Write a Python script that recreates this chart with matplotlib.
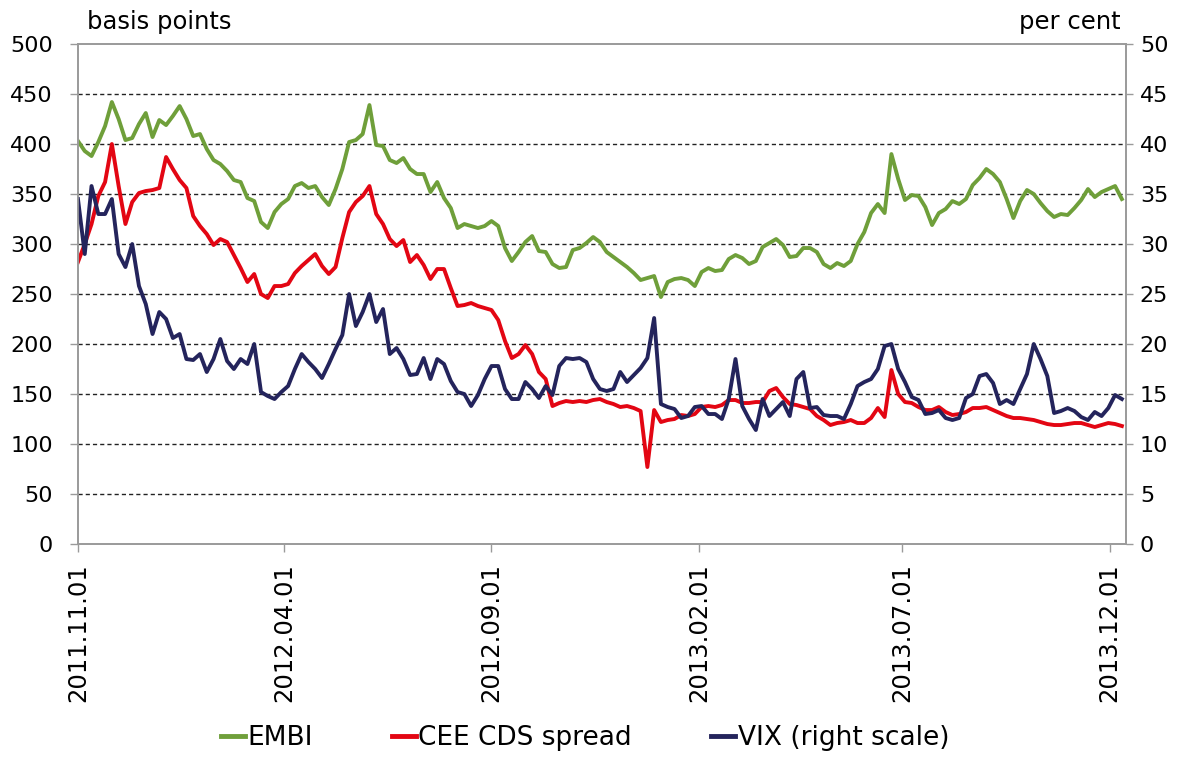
import matplotlib
matplotlib.use("Agg")
import matplotlib.pyplot as plt
import matplotlib.dates as mdates
import pandas as pd

# Values on a 5-day grid starting 2011-11-01
START_DATE = "2011-11-01"
STEP = "5D"

embi = [
    403, 393, 388, 402, 418, 442, 425, 404, 406, 420,
    431, 407, 424, 419, 428, 438, 425, 408, 410, 395,
    384, 380, 373, 364, 362, 346, 343, 322, 316, 332,
    340, 345, 358, 361, 356, 358, 347, 339, 355, 375,
    402, 404, 410, 439, 399, 398, 384, 381, 386, 375,
    370, 370, 352, 362, 346, 336, 316, 320, 318, 316,
    318, 323, 318, 296, 283, 292, 302, 308, 293, 292,
    280, 276, 277, 294, 296, 301, 307, 302, 292, 287,
    282, 277, 271, 264, 266, 268, 247, 262, 265, 266,
    264, 258, 272, 276, 273, 274, 285, 289, 286, 280,
    283, 297, 301, 305, 299, 287, 288, 296, 296, 292,
    280, 276, 281, 278, 283, 300, 312, 331, 340, 331,
    390, 365, 344, 349, 348, 337, 319, 331, 335, 343,
    340, 345, 359, 366, 375, 370, 362, 345, 326, 343,
    354, 350, 341, 333, 327, 330, 329, 336, 344, 355,
    347, 352, 355, 358, 345,
]

cds = [
    282, 300, 320, 348, 362, 400, 358, 320, 342, 351,
    353, 354, 356, 387, 375, 364, 356, 328, 318, 310,
    299, 305, 302, 289, 276, 262, 270, 250, 246, 258,
    258, 260, 271, 278, 284, 290, 278, 270, 277, 306,
    332, 342, 348, 358, 330, 320, 305, 298, 304, 282,
    289, 279, 265, 275, 275, 256, 238, 239, 241, 238,
    236, 234, 224, 203, 186, 190, 199, 190, 172, 165,
    138, 141, 143, 142, 143, 142, 144, 145, 142, 140,
    137, 138, 136, 133, 77, 134, 122, 124, 125, 129,
    128, 130, 137, 138, 137, 139, 144, 144, 141, 141,
    142, 142, 153, 156, 147, 140, 139, 137, 135, 128,
    124, 119, 121, 122, 124, 121, 121, 126, 136, 127,
    174, 150, 142, 141, 137, 134, 134, 137, 132, 129,
    130, 132, 136, 136, 137, 134, 131, 128, 126, 126,
    125, 124, 122, 120, 119, 119, 120, 121, 121, 119,
    117, 119, 121, 120, 118,
]

vix = [
    34.5, 29.0, 35.8, 33.0, 33.0, 34.5, 29.0, 27.7, 30.0, 25.8,
    24.0, 21.0, 23.2, 22.5, 20.6, 21.0, 18.5, 18.4, 19.0, 17.2,
    18.5, 20.5, 18.3, 17.5, 18.5, 18.0, 20.0, 15.2, 14.8, 14.5,
    15.2, 15.8, 17.5, 19.0, 18.2, 17.5, 16.6, 18.0, 19.5, 20.9,
    25.0, 21.8, 23.2, 25.0, 22.2, 23.5, 19.0, 19.6, 18.5, 16.9,
    17.0, 18.6, 16.5, 18.5, 18.0, 16.3, 15.2, 15.0, 13.8, 14.9,
    16.5, 17.8, 17.8, 15.5, 14.5, 14.5, 16.2, 15.5, 14.6, 15.8,
    14.9, 17.8, 18.6, 18.5, 18.6, 18.2, 16.5, 15.5, 15.3, 15.5,
    17.2, 16.2, 16.9, 17.6, 18.6, 22.6, 14.0, 13.7, 13.5, 12.6,
    12.8, 13.7, 13.8, 13.0, 13.0, 12.5, 14.5, 18.5, 13.8, 12.5,
    11.4, 14.5, 12.8, 13.5, 14.2, 12.8, 16.5, 17.2, 13.6, 13.7,
    12.9, 12.8, 12.8, 12.5, 14.0, 15.8, 16.2, 16.5, 17.5, 19.8,
    20.0, 17.5, 16.2, 14.7, 14.4, 13.0, 13.1, 13.4, 12.6, 12.4,
    12.6, 14.6, 15.0, 16.8, 17.0, 16.1, 14.0, 14.4, 14.0, 15.5,
    17.0, 20.0, 18.5, 16.8, 13.1, 13.3, 13.6, 13.3, 12.7, 12.4,
    13.2, 12.8, 13.6, 14.9, 14.5,
]

x_ticks = ["2011-11-01", "2012-04-01", "2012-09-01", "2013-02-01", "2013-07-01", "2013-12-01"]
x_end = "2013-12-13"

GREEN = "#6f9f3a"
RED = "#e30613"
NAVY = "#24245c"
SPINE = "#9a9a9a"

assert len(embi) == len(cds) == len(vix)
dates = pd.date_range(START_DATE, periods=len(embi), freq=STEP)

plt.rcParams["font.family"] = "DejaVu Sans"

fig = plt.figure(figsize=(11.94, 7.58), dpi=100)
ax = fig.add_axes([0.0653, 0.2823, 0.8777, 0.6596])
ax2 = ax.twinx()

ax.plot(dates, embi, color=GREEN, lw=2.8, label="EMBI")
ax.plot(dates, cds, color=RED, lw=2.8, label="CEE CDS spread")
ax2.plot(dates, vix, color=NAVY, lw=2.8, label="VIX (right scale)")

ax.set_ylim(0, 500)
ax.set_yticks(range(0, 501, 50))
ax2.set_ylim(0, 50)
ax2.set_yticks(range(0, 51, 5))
ax.set_xlim(pd.Timestamp(START_DATE), pd.Timestamp(x_end))

for v in range(50, 500, 50):
    ax.axhline(v, color="#222222", lw=1.0, ls=(0, (3, 2.2)), zorder=0.5)

ax.set_xticks(pd.to_datetime(x_ticks))
ax.xaxis.set_major_formatter(mdates.DateFormatter("%Y.%m.%d"))
ax.tick_params(axis="x", labelrotation=90, labelsize=17.5, length=6, width=1,
               color=SPINE, pad=8)
ax.tick_params(axis="y", labelsize=16, length=6, width=1, color=SPINE, pad=12)
ax2.tick_params(axis="y", labelsize=16, length=5, width=1, color=SPINE, pad=5)

for a in (ax, ax2):
    for s in a.spines.values():
        s.set_color(SPINE)
        s.set_linewidth(1.2)

fig.text(87 / 1194, 1 - 22 / 758, "basis points", fontsize=17.5, ha="left", va="center")
fig.text(1121 / 1194, 1 - 22 / 758, "per cent", fontsize=17.5, ha="right", va="center")

h1, l1 = ax.get_legend_handles_labels()
h2, l2 = ax2.get_legend_handles_labels()
leg = fig.legend(h1 + h2, l1 + l2, loc="lower center", bbox_to_anchor=(0.49, -0.022),
                 ncol=3, frameon=False, fontsize=19, handlelength=0.9,
                 handletextpad=0.1, columnspacing=3.0)
for line in leg.get_lines():
    line.set_linewidth(3.5)

fig.savefig("out.png", dpi=100)
